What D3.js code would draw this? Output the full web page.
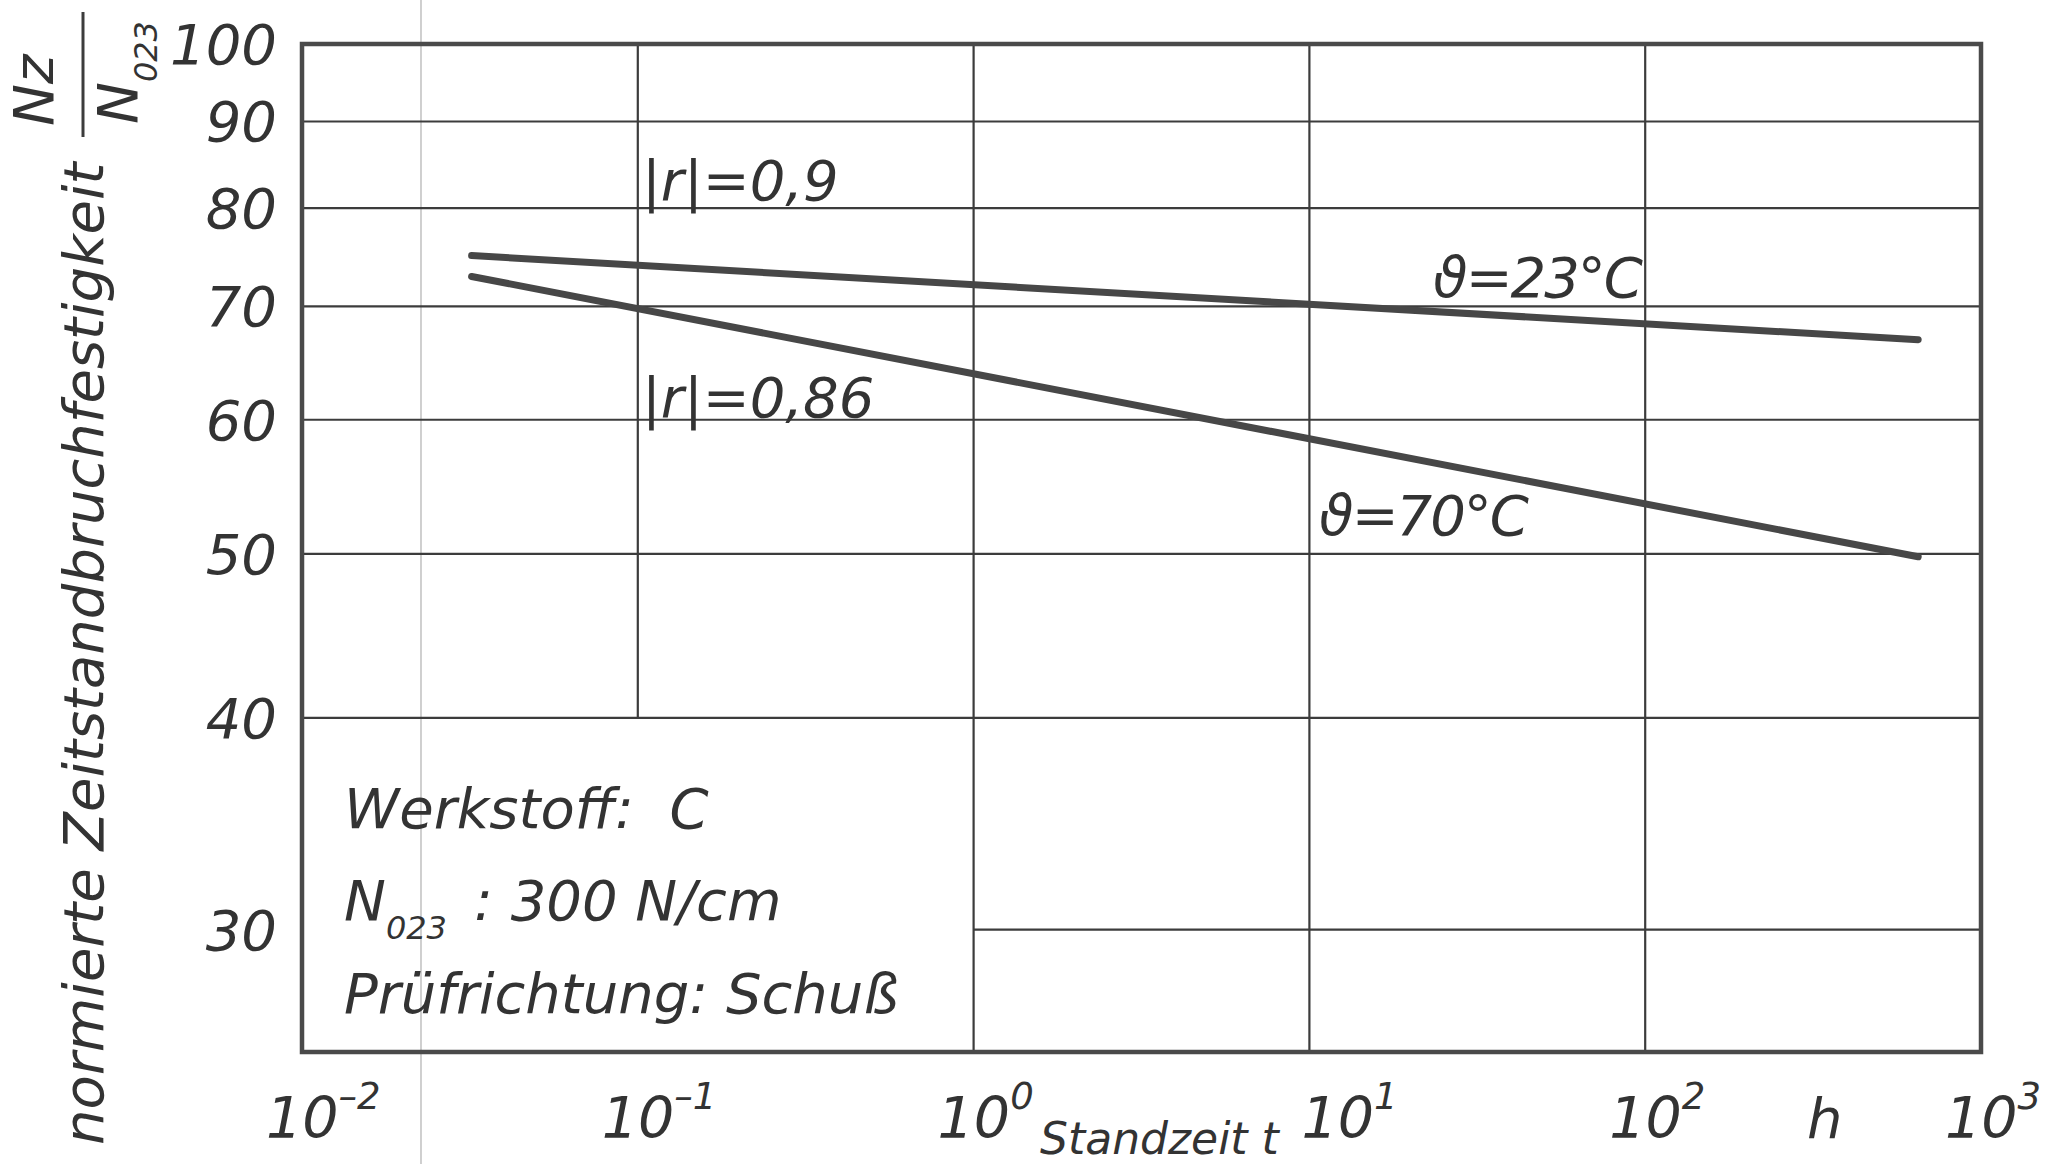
<!DOCTYPE html>
<html>
<head>
<meta charset="utf-8">
<script src="https://cdn.jsdelivr.net/npm/d3@7"></script>
<style>
  html, body { margin: 0; padding: 0; background: #fff; }
  svg text { font-family: "DejaVu Sans", sans-serif; font-style: italic; fill: #333; white-space: pre; }
</style>
</head>
<body>
<svg id="chart" width="2067" height="1164"></svg>
<script>
// Axis ticks
const xExponents = [-2, -1, 0, 1, 2, 3];
const yTicks = [30, 40, 50, 60, 70, 80, 90, 100];

// Regression lines: Standzeit t [h] vs. normierte Zeitstandbruchfestigkeit [%]
const timeSpan   = [0.032, 650];
const strength23 = [75.0, 66.9];
const strength70 = [72.9, 49.8];
const tempLabels = ["ϑ=23°C", "ϑ=70°C"];
const corrLabels = ["|r|=0,9", "|r|=0,86"];

// Specimen info
const infoMaterial  = "Werkstoff:  C";
const infoRefValue  = ": 300 N/cm";
const infoDirection = "Prüfrichtung: Schuß";

const W = 2067, H = 1164;
const plot = { left: 302, right: 1981, top: 44, bottom: 1052 };

const x = d3.scaleLog().domain([0.01, 1000]).range([plot.left, plot.right]);
const y = d3.scaleLog().domain([25.4, 100]).range([plot.bottom, plot.top]);

const svg = d3.select("#chart");
const ink = "#3c3c3c";

// paper fold running through the sheet
svg.append("line")
  .attr("x1", 421).attr("x2", 421).attr("y1", 0).attr("y2", H)
  .attr("stroke", "#c4c4c4").attr("stroke-width", 1.6);

// grid
const grid = svg.append("g").attr("stroke", ink).attr("stroke-width", 2.2).attr("fill", "none");

yTicks.filter(v => v > 30 && v < 100).forEach(v => {
  grid.append("line")
    .attr("x1", plot.left).attr("x2", plot.right)
    .attr("y1", y(v)).attr("y2", y(v));
});
// the 30-line stops at the info box
grid.append("line")
  .attr("x1", x(1)).attr("x2", plot.right)
  .attr("y1", y(30)).attr("y2", y(30));

xExponents.filter(e => e > -2 && e < 3).forEach(e => {
  const xv = x(Math.pow(10, e));
  grid.append("line")
    .attr("x1", xv).attr("x2", xv)
    .attr("y1", plot.top)
    .attr("y2", e === -1 ? y(40) : plot.bottom);
});

// curves
const line = d3.line().x(d => x(d[0])).y(d => y(d[1]));
[strength23, strength70].forEach(s => {
  svg.append("path")
    .datum(timeSpan.map((t, i) => [t, s[i]]))
    .attr("d", line)
    .attr("fill", "none")
    .attr("stroke", "#474747")
    .attr("stroke-width", 7)
    .attr("stroke-linecap", "round");
});

// frame
svg.append("rect")
  .attr("x", plot.left).attr("y", plot.top)
  .attr("width", plot.right - plot.left).attr("height", plot.bottom - plot.top)
  .attr("fill", "none").attr("stroke", "#4a4a4a").attr("stroke-width", 4.5);

// y tick labels
svg.append("g").selectAll("text").data(yTicks).join("text")
  .attr("x", 277)
  .attr("y", d => y(d) + 20)
  .attr("text-anchor", "end")
  .attr("font-size", 56)
  .text(d => d);

// x tick labels: 10 with superscript exponent; 10^1 steps aside for the axis name
const xl = svg.append("g").selectAll("text").data(xExponents).join("text")
  .attr("x", d => x(Math.pow(10, d)) - 36 + (d === 1 ? 28 : 0))
  .attr("y", 1138)
  .attr("font-size", 57);
xl.append("tspan").text("10");
xl.append("tspan")
  .attr("font-size", 37)
  .attr("dy", -29)
  .text(d => (d < 0 ? "–" + Math.abs(d) : String(d)));

svg.append("text").attr("x", 1807).attr("y", 1138).attr("font-size", 56).text("h");
svg.append("text").attr("x", 1040).attr("y", 1154).attr("font-size", 44).text("Standzeit t");

// y axis title
svg.append("text")
  .attr("transform", "translate(103,1145) rotate(-90)")
  .attr("font-size", 56)
  .text("normierte Zeitstandbruchfestigkeit");

// fraction Nz / N023
svg.append("text")
  .attr("transform", "translate(53,126) rotate(-90)")
  .attr("font-size", 56)
  .text("Nz");
svg.append("line")
  .attr("x1", 83).attr("x2", 83).attr("y1", 12).attr("y2", 137)
  .attr("stroke", ink).attr("stroke-width", 3);
const den = svg.append("text")
  .attr("transform", "translate(137,124) rotate(-90)")
  .attr("font-size", 56);
den.append("tspan").text("N");
den.append("tspan").attr("font-size", 32).attr("dy", 20).text("023");

// curve annotations
svg.append("text").attr("x", 642).attr("y", 200).attr("font-size", 56).text(corrLabels[0]);
svg.append("text").attr("x", 642).attr("y", 417).attr("font-size", 56).text(corrLabels[1]);
svg.append("text").attr("x", 1433).attr("y", 297).attr("font-size", 56)
  .attr("letter-spacing", -2).text(tempLabels[0]);
svg.append("text").attr("x", 1319).attr("y", 535).attr("font-size", 56)
  .attr("letter-spacing", -2).text(tempLabels[1]);

// info box
svg.append("text").attr("x", 344).attr("y", 828).attr("font-size", 56).text(infoMaterial);
const ref = svg.append("text").attr("x", 344).attr("y", 920).attr("font-size", 56);
ref.append("tspan").text("N");
ref.append("tspan").attr("font-size", 32).attr("dy", 19).text("023");
ref.append("tspan").attr("x", 474).attr("dy", -19).text(infoRefValue);
svg.append("text").attr("x", 344).attr("y", 1013).attr("font-size", 56).text(infoDirection);
</script>
</body>
</html>
